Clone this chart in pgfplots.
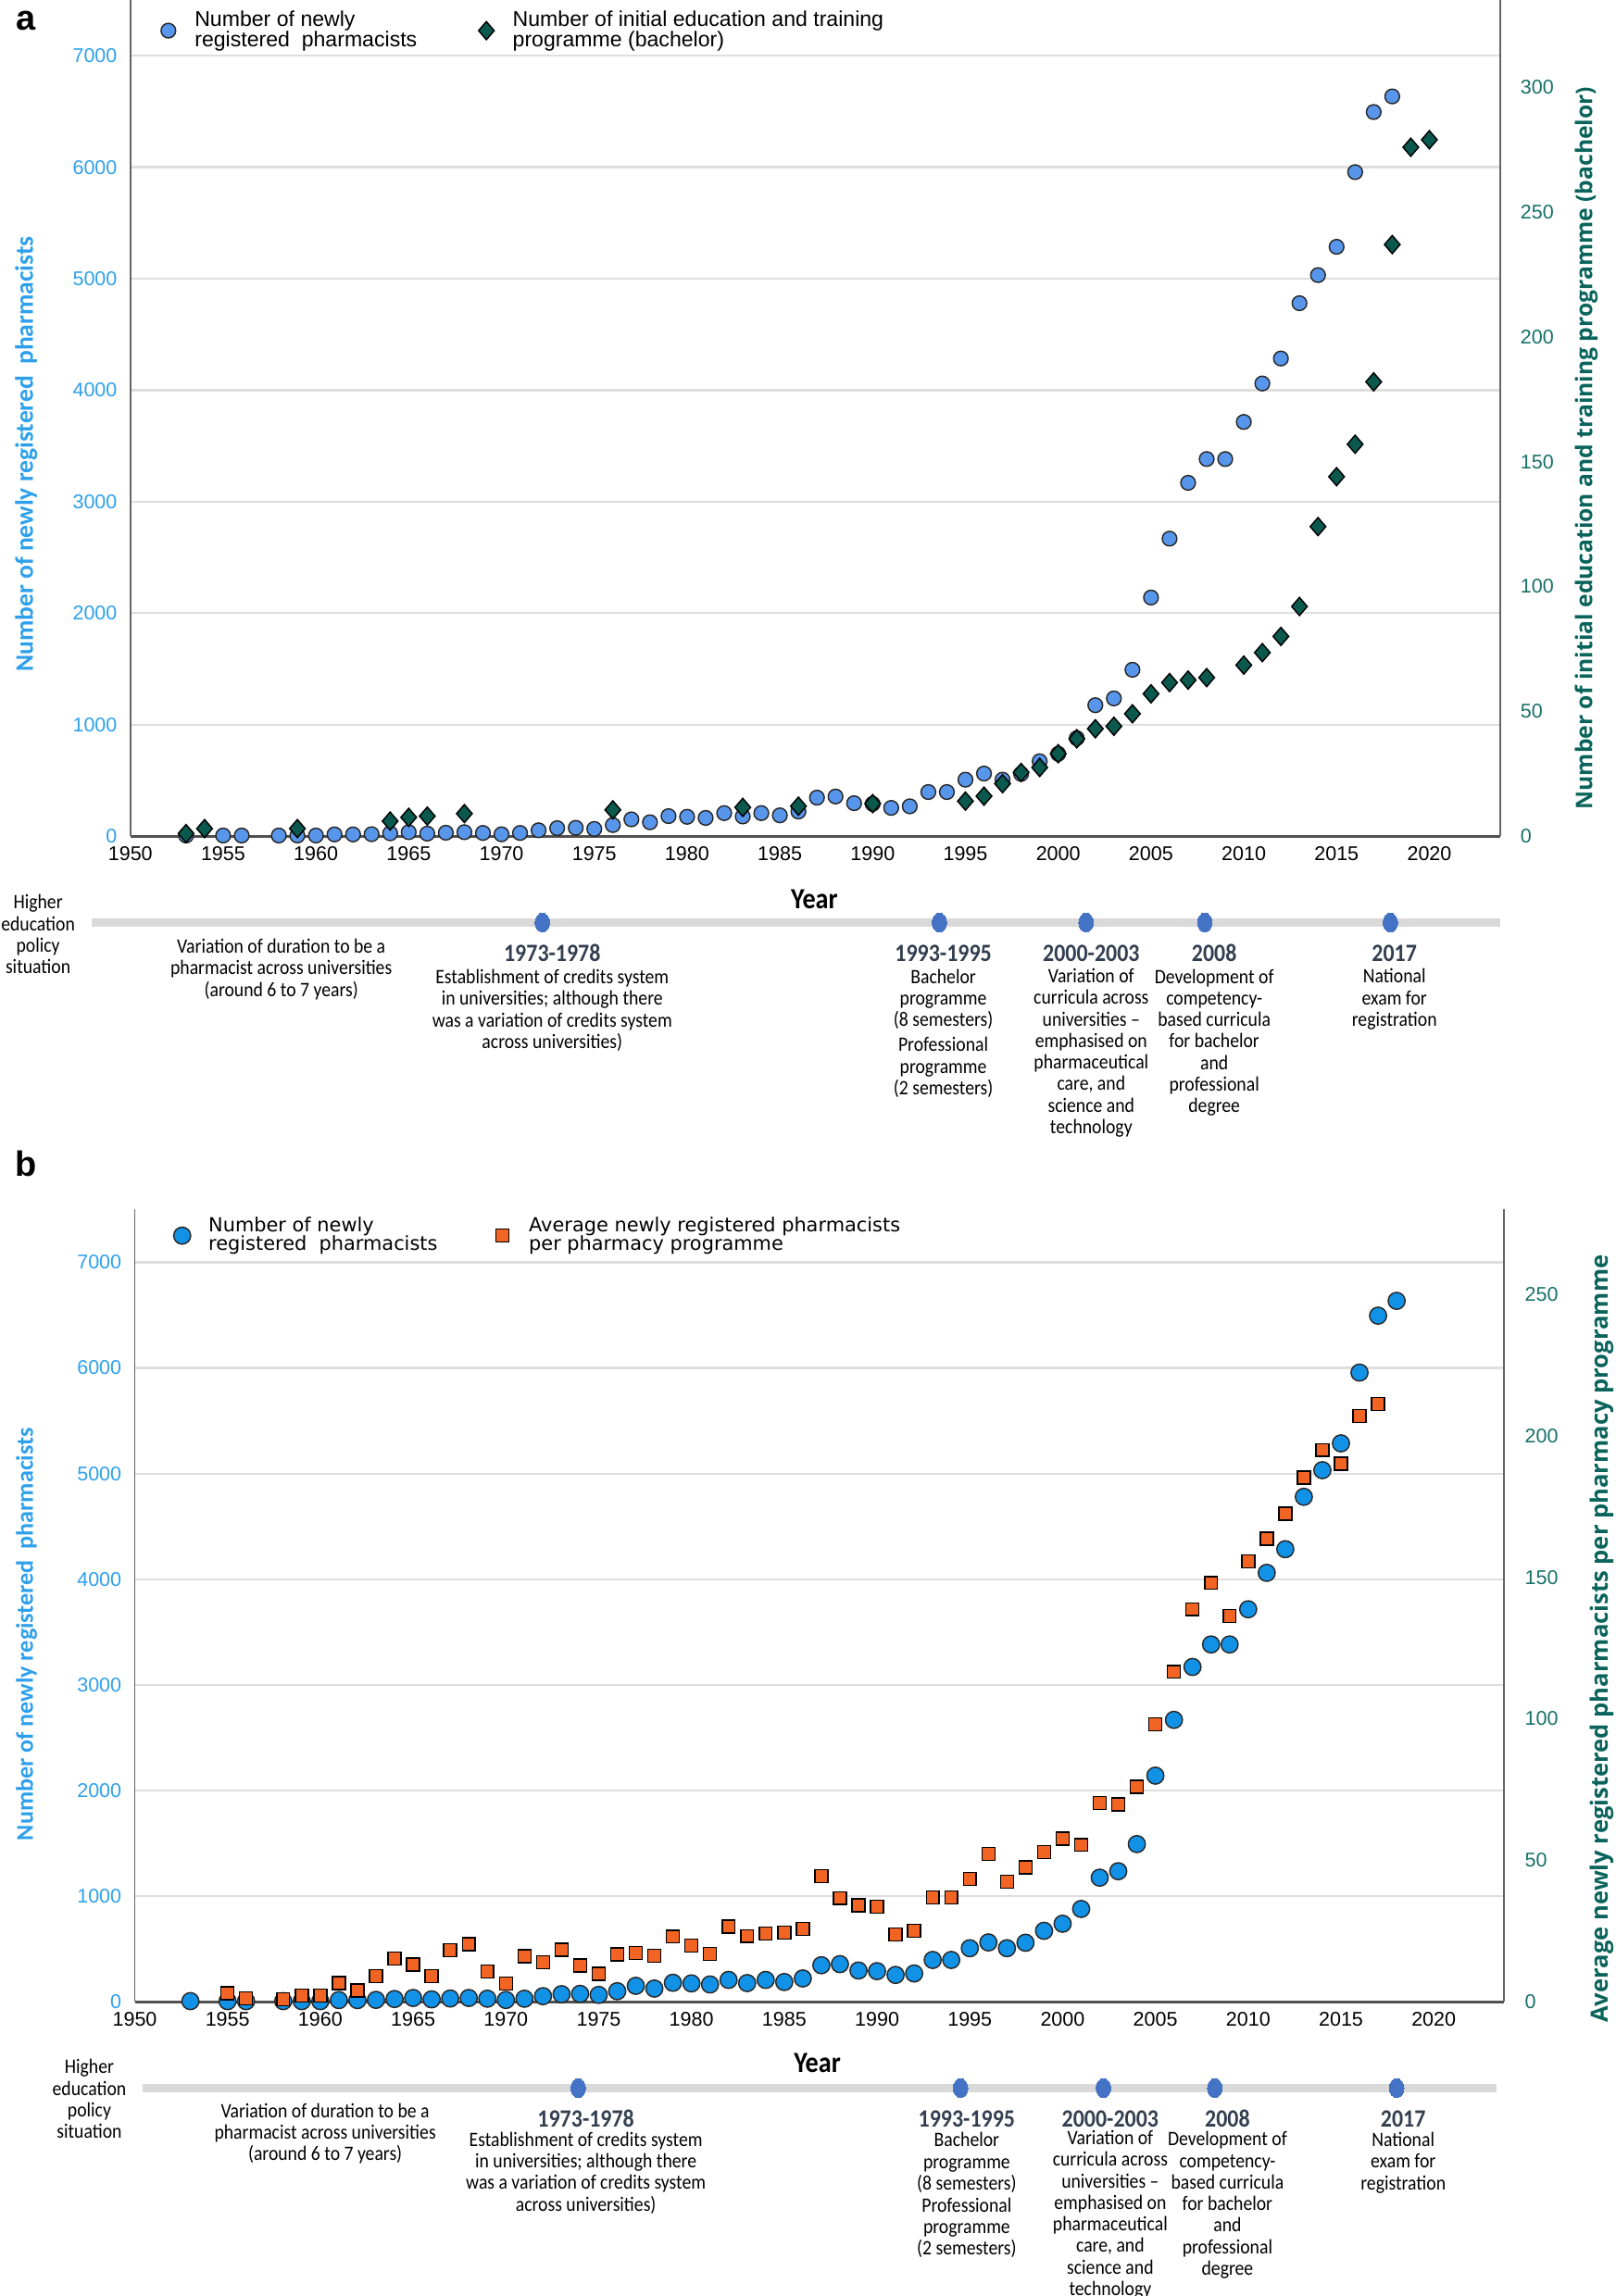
\documentclass[border=0pt]{standalone}
\usepackage{fontspec}
\setmainfont{Liberation Sans}
\newfontfamily\tl[FakeStretch=0.89]{Carlito}
\newfontfamily\lab{Carlito}
\newfontfamily\osb{Open Sans}
\newfontfamily\dv{DejaVu Sans}
\usepackage{pgfplots}
\usepackage{pgfplotstable}
\pgfplotsset{compat=1.18}

\definecolor{leftc}{RGB}{46,160,235}
\definecolor{rightc}{RGB}{22,112,104}
\definecolor{rlab}{RGB}{10,100,92}
\definecolor{circA}{RGB}{88,150,235}
\definecolor{circB}{RGB}{18,146,230}
\definecolor{diam}{RGB}{10,88,78}
\definecolor{orng}{RGB}{242,100,35}
\definecolor{tldot}{RGB}{68,114,196}
\definecolor{tlgray}{RGB}{217,217,217}
\definecolor{tltext}{RGB}{51,63,80}
\definecolor{gridc}{RGB}{222,222,222}
\definecolor{axc}{RGB}{100,100,100}

\newcommand\tlt{\tl\fontsize{7}{7.35}\selectfont}
\newcommand\tly{\tl\bfseries\fontsize{8.5}{9}\selectfont}

% newly registered pharmacists per year
\pgfplotstableread{
year val
1953 5
1955 5
1956 5
1958 5
1959 5
1960 5
1961 15
1962 15
1963 17
1964 25
1965 35
1966 22
1967 30
1968 35
1969 28
1970 16
1971 28
1972 52
1973 71
1974 74
1975 64
1976 99
1977 150
1978 124
1979 179
1980 173
1981 163
1982 206
1983 176
1984 206
1985 186
1986 220
1987 345
1988 355
1989 295
1990 289
1991 253
1992 267
1993 395
1994 395
1995 506
1996 561
1997 506
1998 558
1999 671
2000 738
2001 878
2002 1174
2003 1235
2004 1492
2005 2140
2006 2668
2007 3169
2008 3382
2009 3382
2010 3715
2011 4060
2012 4284
2013 4780
2014 5032
2015 5286
2016 5956
2017 6495
2018 6635
}\newly

% number of bachelor programmes
\pgfplotstableread{
year val
1953 1
1954 3
1959 3
1964 6
1965 7.5
1966 8
1968 9
1976 10.5
1983 11.5
1986 12
1990 13
1995 14
1996 16
1997 21
1998 25.5
1999 27.5
2000 33
2001 39
2002 43
2003 44
2004 49
2005 57
2006 61.5
2007 62.5
2008 63.5
2010 68.5
2011 73.5
2012 80
2013 92
2014 124
2015 144
2016 157
2017 182
2018 237
2019 276
2020 279
}\prog

% average newly registered pharmacists per programme
\pgfplotstableread{
year val
1955 3.0
1956 1.1
1958 0.9
1959 2.2
1960 2.2
1961 6.6
1962 4.0
1963 9.1
1964 15.3
1965 13.1
1966 9.1
1967 18.2
1968 20.3
1969 10.7
1970 6.4
1971 16.1
1972 14.0
1973 18.3
1974 12.8
1975 9.8
1976 16.7
1977 17.2
1978 16.2
1979 23.0
1980 19.9
1981 16.9
1982 26.5
1983 23.2
1984 24.0
1985 24.4
1986 25.7
1987 44.3
1988 36.6
1989 34.1
1990 33.5
1991 23.8
1992 25.1
1993 36.8
1994 36.8
1995 43.4
1996 52.2
1997 42.4
1998 47.5
1999 52.8
2000 57.6
2001 55.4
2002 70.3
2003 69.7
2004 76.0
2005 98.1
2006 116.6
2007 138.7
2008 148.0
2009 136.3
2010 155.7
2011 163.6
2012 172.5
2013 185.2
2014 195.0
2015 190.2
2016 207.0
2017 211.2
}\avg

\pgfplotsset{
  mainaxis/.style={
    anchor=south west, scale only axis, width=467.5pt,
    xmin=1950, xmax=2023.8, ymin=0,
    major tick length=0pt,
    tick label style={font=\fontsize{6.8}{8}\selectfont},
    /pgf/number format/1000 sep={},
    /pgf/number format/assume math mode=true,
    axis line style={-},
    clip=false,
  },
  leftaxis/.style={mainaxis,
    axis y line*=left, axis x line*=bottom,
    xtick={1950,1955,...,2020},
    ymajorgrids, grid style={draw=gridc, line width=0.7pt},
    y axis line style={draw=axc, line width=0.6pt},
    x axis line style={draw=axc!80!black, line width=1pt},
    yticklabel style={text=leftc, xshift=-1pt},
    ylabel style={anchor=center, text=leftc},
  },
  rightaxis/.style={mainaxis,
    axis y line*=right, axis x line=none,
    y axis line style={draw=axc, line width=0.6pt},
    yticklabel style={text=rightc, xshift=3.5pt},
    ylabel style={anchor=center, text=rlab},
    legend columns=2,
    legend image code/.code={\draw[##1] plot coordinates {(0pt,0pt)};
      \path[draw=none, fill=none] (0pt,0pt) rectangle (7pt,0.1pt);},
  },
  tlaxis/.style={anchor=south west, scale only axis, width=467.5pt, height=10pt,
    xmin=1950, xmax=2023.8, ymin=-1, ymax=1, hide axis, clip=false},
  tlline/.style={draw=tlgray, line width=2.6pt, line cap=butt},
  tldots/.style={only marks, color=tldot, mark=*, mark size=2.5pt,
    mark options={fill=tldot, draw=tldot, line width=0pt, yscale=1.3}},
  diamst/.style={only marks, mark=diamond*, mark size=3.1pt,
    mark options={fill=diam, draw=black, line width=0.45pt, xscale=1.15}},
}
\tikzset{tn/.style={inner sep=1pt, align=center}}

\begin{document}
\begin{tikzpicture}
\path[use as bounding box] (0pt,0pt) rectangle (551.5pt,784pt);

% ---------------- panel a ----------------
\begin{axis}[leftaxis, at={(44.5pt,498.5pt)}, height=285.5pt, ymax=7500,
  ytick={0,1000,...,7000},
  ylabel={Number of newly registered\ \ pharmacists},
  ylabel style={at={(axis description cs:-0.076,0.457)},
    font=\lab\bfseries\fontsize{8.7}{10}\selectfont}]
\addplot[only marks, mark=*, mark size=2.5pt,
  mark options={fill=circA, draw=black!85, line width=0.45pt}]
  table[x=year, y=val] {\newly};
\end{axis}

\begin{axis}[rightaxis, at={(44.5pt,498.5pt)}, height=285.5pt, ymax=335,
  ytick={0,50,...,300},
  ylabel={Number of initial education and training programme (bachelor)},
  ylabel style={at={(axis description cs:1.063,0.464)},
    font=\osb\bfseries\fontsize{7.8}{9}\selectfont},
  legend style={at={(axis description cs:0.022,0.995)}, anchor=north west,
    draw=none, fill=none, inner sep=0pt,
    font=\fontsize{7.3}{6.9}\selectfont,
    cells={align=left, anchor=west},
    /tikz/every even column/.append style={column sep=19pt}}]
\addlegendimage{only marks, mark=*, mark size=2.5pt,
  mark options={fill=circA, draw=black!85, line width=0.45pt}}
\addlegendentry{Number of newly\\registered\ \ pharmacists}
\addplot[diamst] table[x=year, y=val] {\prog};
\addlegendentry{Number of initial education and training\\programme (bachelor)}
\end{axis}

\begin{axis}[tlaxis, at={(44.5pt,464pt)}]
\addplot[tlline] coordinates {(1947.9,0) (2023.8,0)};
\addplot[tldots] coordinates {(1972.2,0) (1993.6,0) (2001.5,0) (2007.9,0) (2017.9,0)};
\end{axis}

\node[font=\bfseries\fontsize{12}{12}\selectfont] at (9pt,777pt) {a};
\node[tn, font=\tl\bfseries\fontsize{10}{11}\selectfont] at (278pt,477pt) {Year};
\node[tn, font=\tlt] at (13pt,465pt) {Higher\\education\\policy\\situation};
\node[tn, font=\tlt] at (96pt,453pt) {Variation of duration to be a\\pharmacist across universities\\(around 6 to 7 years)};
\node[tn, font=\tly, text=tltext] at (188.5pt,458.5pt) {1973-1978};
\node[tn, font=\tlt] at (188.5pt,439pt) {Establishment of credits system\\in universities; although there\\was a variation of credits system\\across universities)};
\node[tn, font=\tly, text=tltext] at (322pt,458.5pt) {1993-1995};
\node[tn, font=\tlt] at (322pt,442.75pt) {Bachelor\\programme\\(8 semesters)};
\node[tn, font=\tlt] at (322pt,419.5pt) {Professional\\programme\\(2 semesters)};
\node[tn, font=\tly, text=tltext] at (372.5pt,458.5pt) {2000-2003};
\node[tn, font=\tlt] at (372.5pt,424.5pt) {Variation of\\curricula across\\universities –\\emphasised on\\pharmaceutical\\care, and\\science and\\technology};
\node[tn, font=\tly, text=tltext] at (414.5pt,458.5pt) {2008};
\node[tn, font=\tlt] at (414.5pt,428pt) {Development of\\competency-\\based curricula\\for bachelor\\and\\professional\\degree};
\node[tn, font=\tly, text=tltext] at (476pt,458.5pt) {2017};
\node[tn, font=\tlt] at (476pt,442.75pt) {National\\exam for\\registration};

% ---------------- panel b ----------------
\begin{axis}[leftaxis, at={(46pt,100.5pt)}, height=270.5pt, ymax=7500,
  ytick={0,1000,...,7000},
  ylabel={Number of newly registered\ \ pharmacists},
  ylabel style={at={(axis description cs:-0.079,0.464)},
    font=\lab\bfseries\fontsize{8.25}{10}\selectfont}]
\addplot[only marks, mark=*, mark size=2.9pt,
  mark options={fill=circB, draw=black!85, line width=0.45pt}]
  table[x=year, y=val] {\newly};
\end{axis}

\begin{axis}[rightaxis, at={(46pt,100.5pt)}, height=270.5pt, ymax=280,
  ytick={0,50,...,250},
  ylabel={Average newly registered pharmacists per pharmacy programme},
  ylabel style={at={(axis description cs:1.071,0.458)},
    font=\osb\bfseries\fontsize{8.1}{9}\selectfont},
  legend style={at={(axis description cs:0.028,0.999)}, anchor=north west,
    draw=none, fill=none, inner sep=0pt,
    font=\dv\fontsize{6.6}{6.4}\selectfont,
    cells={align=left, anchor=west},
    /tikz/every even column/.append style={column sep=18pt}}]
\addlegendimage{only marks, mark=*, mark size=2.9pt,
  mark options={fill=circB, draw=black!85, line width=0.45pt}}
\addlegendentry{Number of newly\\registered\ \ pharmacists}
\addplot[only marks, mark=square*, mark size=2.2pt,
  mark options={fill=orng, draw=black, line width=0.45pt}]
  table[x=year, y=val] {\avg};
\addlegendentry{Average newly registered pharmacists\\per pharmacy programme}
\end{axis}

\begin{axis}[tlaxis, at={(46pt,66pt)}]
\addplot[tlline] coordinates {(1950.4,0) (2023.4,0)};
\addplot[tldots] coordinates {(1973.9,0) (1994.5,0) (2002.2,0) (2008.2,0) (2018.0,0)};
\end{axis}

\node[font=\bfseries\fontsize{12}{12}\selectfont] at (9pt,386.5pt) {b};
\node[tn, font=\tl\bfseries\fontsize{10}{11}\selectfont] at (279pt,79.5pt) {Year};
\node[tn, font=\tlt] at (30.5pt,67.25pt) {Higher\\education\\policy\\situation};
\node[tn, font=\tlt] at (111pt,55.5pt) {Variation of duration to be a\\pharmacist across universities\\(around 6 to 7 years)};
\node[tn, font=\tly, text=tltext] at (200pt,60.5pt) {1973-1978};
\node[tn, font=\tlt] at (200pt,42pt) {Establishment of credits system\\in universities; although there\\was a variation of credits system\\across universities)};
\node[tn, font=\tly, text=tltext] at (330pt,60.5pt) {1993-1995};
\node[tn, font=\tlt] at (330pt,45.5pt) {Bachelor\\programme\\(8 semesters)};
\node[tn, font=\tlt] at (330pt,23.25pt) {Professional\\programme\\(2 semesters)};
\node[tn, font=\tly, text=tltext] at (379pt,60.5pt) {2000-2003};
\node[tn, font=\tlt] at (379pt,27.75pt) {Variation of\\curricula across\\universities –\\emphasised on\\pharmaceutical\\care, and\\science and\\technology};
\node[tn, font=\tly, text=tltext] at (419pt,60.5pt) {2008};
\node[tn, font=\tlt] at (419pt,31pt) {Development of\\competency-\\based curricula\\for bachelor\\and\\professional\\degree};
\node[tn, font=\tly, text=tltext] at (479pt,60.5pt) {2017};
\node[tn, font=\tlt] at (479pt,45.5pt) {National\\exam for\\registration};
\end{tikzpicture}
\end{document}
